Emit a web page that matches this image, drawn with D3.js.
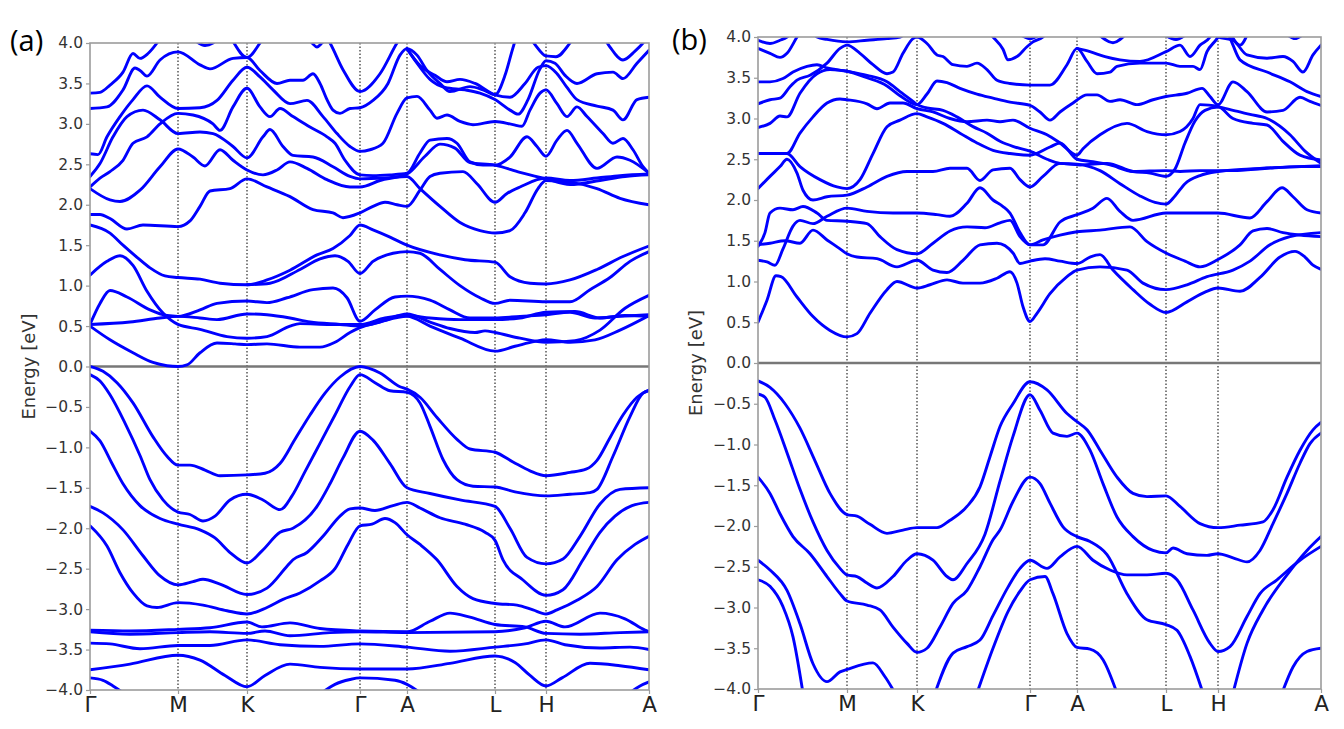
<!DOCTYPE html>
<html><head><meta charset="utf-8">
<script src="https://cdnjs.cloudflare.com/ajax/libs/d3/7.8.5/d3.min.js"></script>
<style>body{margin:0;background:#fff}svg{display:block}</style>
</head><body><svg id="c" width="1344" height="729"></svg>
<script>
// k-path positions of the high-symmetry points (path length units)
const kTicksA = [0, 88, 157, 270, 317, 405, 456, 559];
const kTicksB = [0, 89, 159, 272, 319, 408, 460, 563];
const kLabels = ["Γ","M","K","Γ","A","L","H","A"];
const eTicks = [-4,-3.5,-3,-2.5,-2,-1.5,-1,-0.5,0,0.5,1,1.5,2,2.5,3,3.5,4];
const panelLabels = ["(a)","(b)"];

// ---------- panel (a) bands: [k, E(eV)] ----------
const aV1=[[0,0],[13,-0.06],[27,-0.2],[43,-0.45],[63,-0.87],[77,-1.11],[88,-1.22],[100,-1.22],[115,-1.28],[130,-1.35],[157,-1.34],[175,-1.32],[190,-1.2],[205,-0.9],[220,-0.6],[235,-0.33],[250,-0.13],[270,0],[290,-0.08],[310,-0.25],[317,-0.28],[330,-0.38],[347,-0.63],[367,-0.9],[380,-1.02],[405,-1.06],[423,-1.18],[440,-1.29],[456,-1.35],[480,-1.31],[496,-1.27],[507,-1.16],[520,-0.88],[533,-0.6],[547,-0.38],[559,-0.29]];
const aV2=[[0,-0.1],[10,-0.18],[20,-0.35],[35,-0.7],[50,-1.1],[60,-1.4],[73,-1.65],[88,-1.8],[100,-1.83],[113,-1.91],[125,-1.85],[140,-1.65],[157,-1.58],[173,-1.65],[190,-1.77],[202,-1.6],[215,-1.3],[230,-0.95],[245,-0.6],[260,-0.25],[270,-0.1],[285,-0.2],[300,-0.3],[317,-0.32],[330,-0.45],[340,-0.74],[353,-1.15],[367,-1.4],[383,-1.48],[405,-1.49],[425,-1.55],[456,-1.6],[480,-1.58],[500,-1.56],[507,-1.52],[523,-1.11],[540,-0.62],[553,-0.33],[559,-0.3]];
const aV3=[[0,-0.8],[10,-0.92],[22,-1.2],[33,-1.45],[50,-1.72],[70,-1.88],[88,-1.95],[110,-2.02],[125,-2.12],[140,-2.3],[157,-2.43],[172,-2.28],[190,-2.05],[203,-2.0],[227,-1.73],[240,-1.45],[253,-1.13],[270,-0.8],[283,-0.91],[300,-1.2],[317,-1.5],[340,-1.57],[370,-1.65],[405,-1.73],[420,-2.0],[437,-2.36],[456,-2.44],[473,-2.38],[490,-2.1],[510,-1.7],[530,-1.52],[559,-1.5]];
const aV4=[[0,-1.73],[13,-1.81],[33,-2.02],[53,-2.34],[70,-2.59],[88,-2.7],[103,-2.66],[113,-2.63],[130,-2.69],[157,-2.82],[177,-2.74],[197,-2.47],[203,-2.39],[217,-2.3],[233,-2.1],[250,-1.85],[260,-1.76],[270,-1.75],[285,-1.78],[303,-1.72],[317,-1.68],[330,-1.75],[350,-1.87],[375,-1.95],[395,-2.05],[405,-2.15],[413,-2.39],[433,-2.64],[456,-2.83],[473,-2.76],[493,-2.39],[510,-2.05],[525,-1.85],[542,-1.72],[559,-1.68]];
const aV5=[[0,-1.97],[17,-2.22],[30,-2.55],[43,-2.8],[57,-2.96],[67,-2.98],[88,-2.92],[113,-2.95],[137,-3.02],[157,-3.06],[177,-2.98],[193,-2.88],[210,-2.8],[230,-2.65],[245,-2.5],[258,-2.2],[270,-1.97],[282,-1.95],[295,-1.88],[305,-1.93],[317,-2.08],[330,-2.2],[347,-2.39],[367,-2.72],[383,-2.87],[405,-2.93],[427,-2.95],[443,-3.01],[456,-3.06],[467,-3.01],[487,-2.89],[507,-2.72],[527,-2.39],[545,-2.2],[559,-2.1]];
const aF1=[[0,-3.26],[40,-3.27],[88,-3.25],[120,-3.23],[157,-3.16],[172,-3.22],[200,-3.17],[230,-3.24],[270,-3.27],[317,-3.28],[340,-3.15],[360,-3.05],[380,-3.1],[405,-3.19],[435,-3.22],[456,-3.3],[490,-3.31],[530,-3.29],[559,-3.28]];
const aF2=[[0,-3.28],[40,-3.31],[88,-3.29],[120,-3.28],[157,-3.3],[175,-3.27],[200,-3.33],[240,-3.29],[270,-3.28],[317,-3.29],[405,-3.28],[435,-3.23],[456,-3.15],[475,-3.22],[510,-3.05],[535,-3.12],[555,-3.26],[559,-3.28]];
const aF3=[[0,-3.42],[20,-3.43],[50,-3.49],[88,-3.45],[120,-3.45],[157,-3.38],[190,-3.44],[230,-3.46],[270,-3.43],[317,-3.47],[360,-3.52],[405,-3.47],[435,-3.43],[456,-3.38],[475,-3.44],[510,-3.48],[540,-3.47],[559,-3.5]];
const aF4=[[0,-3.75],[40,-3.68],[88,-3.57],[110,-3.63],[135,-3.82],[157,-3.96],[175,-3.82],[200,-3.68],[230,-3.72],[270,-3.74],[317,-3.74],[360,-3.67],[405,-3.58],[425,-3.66],[440,-3.82],[456,-3.95],[472,-3.85],[500,-3.67],[530,-3.7],[559,-3.75]];
const aF5a=[[0,-3.85],[13,-3.88],[23,-3.95],[35,-4.05]];
const aF5b=[[230,-4.05],[245,-3.93],[260,-3.87],[270,-3.85],[305,-3.88],[317,-3.93],[332,-4.05]];
const aF5c=[[538,-4.05],[550,-3.95],[559,-3.9]];
const aC1=[[0,0.5],[20,0.33],[43,0.17],[63,0.05],[77,0.01],[88,0],[97,0.02],[110,0.17],[127,0.29],[145,0.28],[157,0.27],[177,0.28],[210,0.24],[230,0.24],[245,0.3],[260,0.42],[270,0.48],[290,0.55],[317,0.62],[340,0.5],[370,0.35],[405,0.19],[425,0.25],[445,0.31],[456,0.33],[480,0.3],[505,0.33],[530,0.45],[559,0.63]];
const aC2=[[0,0.52],[40,0.55],[70,0.6],[88,0.62],[110,0.6],[127,0.58],[157,0.65],[177,0.64],[200,0.6],[220,0.55],[250,0.52],[270,0.5],[295,0.57],[317,0.65],[340,0.55],[360,0.47],[385,0.42],[395,0.44],[405,0.42],[430,0.35],[456,0.3],[485,0.32],[510,0.45],[535,0.72],[559,0.88]];
const aC3=[[0,0.52],[10,0.78],[20,0.94],[37,0.86],[60,0.7],[77,0.63],[88,0.62],[110,0.7],[127,0.78],[157,0.81],[177,0.79],[197,0.85],[223,0.95],[243,0.97],[257,0.85],[270,0.56],[285,0.7],[305,0.86],[317,0.87],[340,0.82],[360,0.7],[380,0.6],[405,0.6],[430,0.62],[456,0.64],[480,0.67],[505,0.6],[530,0.62],[559,0.64]];
const aC4=[[0,1.13],[17,1.3],[30,1.37],[43,1.25],[57,0.93],[73,0.66],[88,0.52],[110,0.46],[137,0.37],[157,0.35],[177,0.37],[200,0.5],[210,0.53],[240,0.52],[270,0.52],[295,0.6],[317,0.63],[340,0.6],[370,0.58],[405,0.58],[430,0.6],[456,0.67],[485,0.68],[510,0.6],[535,0.63],[559,0.62]];
const aC5=[[0,1.75],[20,1.65],[33,1.5],[47,1.35],[60,1.22],[75,1.12],[88,1.1],[110,1.08],[130,1.03],[157,1.01],[177,1.07],[200,1.19],[227,1.38],[243,1.46],[260,1.62],[270,1.75],[283,1.69],[300,1.6],[317,1.5],[350,1.38],[375,1.32],[405,1.29],[420,1.11],[440,1.03],[456,1.02],[480,1.07],[507,1.2],[533,1.36],[559,1.49]];
const aC5b=[[157,1.01],[180,1.03],[210,1.2],[230,1.33],[245,1.37],[258,1.3],[270,1.15],[283,1.3],[303,1.4],[317,1.42],[330,1.4],[350,1.2],[370,1.0],[390,0.85],[405,0.78],[420,0.82],[456,0.8],[480,0.8],[500,0.95],[520,1.1],[540,1.3],[559,1.42]];
const aC6=[[0,1.88],[10,1.88],[20,1.83],[37,1.7],[53,1.75],[88,1.73],[100,1.8],[110,1.98],[120,2.17],[140,2.2],[157,2.32],[177,2.22],[200,2.1],[223,1.94],[243,1.9],[253,1.84],[270,1.9],[283,1.98],[295,2.03],[307,2.0],[317,1.98],[330,2.18],[340,2.35],[350,2.39],[373,2.41],[387,2.26],[405,2.03],[417,2.14],[430,2.22],[456,2.33],[480,2.3],[507,2.33],[530,2.36],[559,2.38]];
const aC7=[[0,2.2],[20,2.06],[30,2.04],[50,2.18],[70,2.47],[88,2.69],[103,2.59],[115,2.48],[130,2.68],[143,2.55],[157,2.43],[173,2.37],[187,2.43],[200,2.53],[217,2.45],[237,2.31],[260,2.22],[270,2.22],[290,2.3],[317,2.38],[335,2.6],[350,2.75],[365,2.7],[380,2.52],[405,2.49],[430,2.4],[456,2.32],[480,2.25],[510,2.3],[535,2.35],[559,2.37]];
const aL3=[[0,2.63],[8,2.62],[17,2.84],[30,3.09],[43,3.3],[57,3.47],[70,3.33],[88,3.19],[110,3.2],[127,3.29],[143,3.54],[157,3.7],[170,3.58],[183,3.42],[200,3.25],[217,3.29],[233,3.09],[247,2.88],[260,2.72],[270,2.66],[280,2.68],[293,2.76],[307,3.13],[317,3.32],[327,3.34],[340,3.17],[347,3.07],[357,3.11],[370,3.03],[383,2.99],[405,3.03],[423,2.99],[432,2.97],[440,3.17],[450,3.38],[456,3.42],[467,3.25],[477,3.09],[487,3.21],[497,3.09],[513,2.88],[523,2.76],[533,2.82],[543,2.68],[553,2.47],[559,2.39]];
const aL4=[[0,2.35],[10,2.51],[23,2.84],[37,3.09],[53,3.17],[70,3.05],[88,2.88],[110,2.9],[123,2.88],[143,2.72],[157,2.58],[173,2.84],[180,2.93],[193,2.72],[203,2.61],[223,2.59],[243,2.47],[260,2.35],[270,2.32],[295,2.33],[317,2.35],[330,2.2],[350,1.98],[370,1.78],[390,1.68],[405,1.65],[420,1.68],[435,1.9],[448,2.2],[456,2.3],[480,2.28],[507,2.2],[530,2.08],[559,2.0]];
const aL5=[[0,2.22],[10,2.33],[20,2.41],[33,2.55],[43,2.76],[57,2.84],[70,3.0],[88,3.13],[103,3.11],[123,3.0],[130,2.92],[143,3.21],[157,3.44],[170,3.21],[180,3.09],[190,3.19],[203,3.09],[220,2.96],[237,2.84],[245,2.76],[255,2.55],[270,2.37],[283,2.36],[300,2.37],[317,2.39],[330,2.64],[340,2.8],[357,2.82],[367,2.76],[380,2.53],[393,2.49],[405,2.49],[420,2.59],[437,2.84],[447,2.72],[456,2.6],[467,2.8],[477,2.92],[487,2.76],[507,2.45],[527,2.59],[540,2.55],[559,2.39]];
const aU1=[[0,3.38],[10,3.39],[20,3.48],[33,3.64],[43,3.87],[50,3.81],[58,3.87],[67,4.0],[75,4.15]];
const aU1b=[[95,4.15],[105,4.03],[115,3.97],[123,4.0],[132,4.15]];
const aU1c=[[132,4.3],[143,4.02],[157,3.82],[170,4.0],[180,4.2]];
const aU1d=[[215,4.1],[222,4.0],[227,3.95],[232,4.0],[240,4.1]];
const aUG=[[232,4.15],[240,4.0],[253,3.67],[270,3.4],[290,3.62],[307,4.0],[315,4.15]];
const aU2=[[0,3.19],[17,3.21],[33,3.42],[45,3.69],[50,3.66],[57,3.59],[70,3.79],[88,3.89],[110,3.73],[120,3.68],[143,3.81],[157,3.82],[170,3.66],[187,3.5],[200,3.54],[213,3.54],[223,3.62],[230,3.5],[237,3.3],[243,3.17],[250,3.13],[260,3.19],[270,3.2],[283,3.29],[298,3.5],[310,3.85],[317,3.93],[327,3.85],[337,3.66],[350,3.5],[360,3.4],[380,3.46],[393,3.42],[405,3.36],[415,3.6],[422,3.9],[428,4.15]];
const aU4=[[317,3.93],[327,3.75],[340,3.55],[355,3.45],[375,3.42],[390,3.38],[405,3.3],[420,3.17],[428,3.12],[438,3.3],[450,3.68],[456,3.78],[465,3.75],[475,3.6],[487,3.5],[507,3.62],[523,3.64],[533,3.56],[547,3.75],[559,3.91]];
const aU5=[[317,3.93],[330,3.72],[345,3.6],[357,3.52],[370,3.55],[385,3.5],[405,3.36],[420,3.33],[435,3.5],[448,3.7],[456,3.72],[467,3.62],[477,3.45],[487,3.3],[507,3.22],[523,3.17],[533,3.05],[547,3.3],[559,3.33]];
const aU3=[[435,4.15],[445,3.98],[456,3.84],[466,3.83],[480,4.0],[488,4.15]];
const aU6=[[510,4.15],[520,3.95],[533,3.79],[545,3.9],[553,4.0],[559,4.1]];

// ---------- panel (b) bands ----------
const bV1=[[0,-0.22],[12,-0.3],[27,-0.5],[42,-0.8],[57,-1.2],[72,-1.6],[89,-1.86],[99,-1.88],[112,-1.98],[129,-2.09],[145,-2.05],[159,-2.02],[179,-2.02],[192,-1.93],[209,-1.76],[222,-1.52],[232,-1.15],[242,-0.78],[255,-0.5],[272,-0.23],[289,-0.33],[309,-0.62],[319,-0.72],[329,-0.82],[342,-1.07],[359,-1.4],[375,-1.6],[389,-1.64],[408,-1.63],[422,-1.76],[442,-1.97],[460,-2.02],[482,-1.99],[505,-1.95],[515,-1.8],[529,-1.4],[542,-1.07],[555,-0.82],[563,-0.73]];
const bV2=[[0,-0.38],[7,-0.42],[17,-0.7],[29,-1.1],[42,-1.55],[55,-1.95],[69,-2.3],[82,-2.52],[89,-2.6],[99,-2.62],[109,-2.7],[119,-2.76],[135,-2.62],[149,-2.42],[159,-2.34],[175,-2.42],[189,-2.62],[195,-2.66],[209,-2.46],[227,-2.1],[242,-1.45],[255,-0.9],[272,-0.39],[282,-0.58],[295,-0.86],[309,-0.9],[319,-0.86],[332,-1.07],[345,-1.48],[359,-1.89],[375,-2.13],[395,-2.3],[408,-2.33],[415,-2.27],[429,-2.34],[449,-2.36],[460,-2.34],[475,-2.39],[489,-2.44],[502,-2.3],[515,-1.97],[529,-1.6],[542,-1.23],[552,-0.99],[563,-0.86]];
const bV3=[[0,-1.4],[12,-1.6],[22,-1.85],[35,-2.13],[52,-2.34],[69,-2.62],[82,-2.83],[89,-2.92],[109,-2.97],[122,-3.03],[135,-3.24],[149,-3.44],[159,-3.55],[169,-3.5],[182,-3.24],[195,-2.95],[209,-2.79],[222,-2.5],[235,-2.17],[242,-2.05],[255,-1.7],[272,-1.4],[282,-1.48],[292,-1.72],[305,-2.01],[319,-2.13],[332,-2.19],[349,-2.35],[369,-2.83],[389,-3.15],[408,-3.21],[419,-3.28],[432,-3.6],[445,-4.05]];
const bV4=[[0,-2.42],[12,-2.54],[29,-2.79],[42,-3.2],[55,-3.69],[69,-3.91],[82,-3.79],[89,-3.76],[115,-3.68],[127,-3.85],[137,-4.05]];
const bV5=[[0,-2.66],[12,-2.74],[25,-2.99],[35,-3.36],[45,-4.05]];
const bV6=[[177,-4.05],[195,-3.56],[209,-3.48],[222,-3.4],[235,-3.1],[250,-2.75],[262,-2.52],[272,-2.42],[289,-2.52],[302,-2.38],[319,-2.25],[335,-2.42],[352,-2.54],[369,-2.6],[389,-2.6],[408,-2.58],[419,-2.66],[435,-3.03],[452,-3.44],[460,-3.54],[472,-3.48],[489,-3.11],[502,-2.83],[519,-2.66],[542,-2.42],[563,-2.25]];
const bV7=[[219,-4.05],[235,-3.5],[250,-3.05],[262,-2.8],[272,-2.66],[287,-2.62],[295,-2.83],[309,-3.32],[319,-3.49],[332,-3.51],[345,-3.64],[359,-4.05]];
const bV8=[[475,-4.05],[489,-3.44],[505,-3.03],[529,-2.6],[549,-2.3],[563,-2.13]];
const bV9=[[524,-4.05],[535,-3.73],[549,-3.54],[563,-3.5]];
const bC1=[[0,0.5],[9,0.77],[18,1.07],[23,1.06],[39,0.81],[55,0.57],[72,0.4],[89,0.32],[99,0.36],[112,0.61],[129,0.9],[139,1.0],[159,0.92],[172,0.96],[189,1.02],[205,0.98],[222,0.98],[239,1.04],[252,1.12],[259,0.98],[265,0.69],[272,0.51],[279,0.61],[292,0.85],[309,1.06],[319,1.14],[342,1.18],[369,1.14],[385,0.98],[408,0.9],[429,0.96],[449,1.06],[475,1.14],[492,1.25],[512,1.45],[532,1.55],[563,1.6]];
const bC4=[[0,1.45],[12,1.47],[27,1.5],[42,1.47],[55,1.63],[69,1.51],[82,1.4],[89,1.34],[99,1.3],[119,1.28],[139,1.18],[159,1.26],[175,1.14],[189,1.11],[205,1.26],[222,1.45],[239,1.47],[255,1.35],[262,1.22],[272,1.25],[287,1.28],[302,1.25],[319,1.22],[332,1.3],[342,1.33],[355,1.14],[375,0.9],[392,0.72],[408,0.62],[429,0.75],[447,0.87],[460,0.92],[482,0.88],[502,1.05],[522,1.3],[537,1.37],[547,1.3],[555,1.2],[563,1.15]];
const bC2=[[0,1.26],[9,1.24],[17,1.2],[25,1.4],[35,1.68],[42,1.75],[55,1.71],[69,1.8],[89,1.9],[109,1.86],[135,1.84],[159,1.84],[179,1.82],[192,1.8],[209,1.96],[222,2.15],[235,2.0],[245,1.92],[252,1.84],[262,1.6],[272,1.45],[285,1.51],[302,1.57],[319,1.61],[342,1.63],[372,1.67],[389,1.49],[408,1.35],[427,1.25],[442,1.18],[460,1.27],[482,1.45],[495,1.62],[509,1.65],[525,1.6],[542,1.57],[563,1.55]];
const bC3=[[0,1.43],[7,1.6],[12,1.84],[22,1.9],[35,1.88],[45,1.92],[59,1.84],[69,1.75],[89,1.74],[109,1.71],[122,1.55],[139,1.39],[159,1.34],[175,1.47],[192,1.62],[209,1.67],[227,1.66],[242,1.72],[252,1.75],[262,1.55],[272,1.45],[285,1.45],[302,1.73],[319,1.82],[335,1.9],[349,2.02],[362,1.86],[375,1.75],[408,1.84],[442,1.84],[460,1.84],[492,1.78],[509,1.98],[524,2.15],[535,2.04],[549,1.88],[563,1.84]];
const bU10=[[0,2.14],[12,2.29],[22,2.41],[29,2.5],[39,2.33],[45,2.12],[55,2.0],[69,2.04],[89,2.06],[109,2.16],[129,2.29],[149,2.35],[159,2.35],[175,2.35],[192,2.39],[209,2.39],[222,2.24],[235,2.37],[252,2.39],[262,2.25],[272,2.16],[285,2.29],[302,2.45],[322,2.43],[349,2.45],[375,2.35],[392,2.33],[408,2.29],[417,2.38],[427,2.7],[437,2.97],[447,3.1],[460,3.14],[475,3.1],[492,3.05],[509,3.0],[532,2.8],[547,2.6],[563,2.45]];
const bU5b=[[0,2.57],[29,2.57],[42,2.41],[62,2.25],[79,2.16],[89,2.14],[102,2.25],[115,2.57],[129,2.9],[142,2.98],[159,3.06],[169,3.02],[185,2.94],[202,2.82],[219,2.7],[235,2.61],[252,2.57],[272,2.55],[292,2.65],[302,2.7],[319,2.5],[335,2.47],[352,2.43],[375,2.35],[408,2.36],[422,2.35],[442,2.36],[475,2.36],[509,2.39],[542,2.41],[563,2.41]];
const bU6=[[0,2.57],[29,2.57],[42,2.82],[55,3.02],[69,3.19],[82,3.24],[89,3.23],[109,3.18],[119,3.12],[132,3.19],[145,3.19],[159,3.12],[175,3.08],[192,3.0],[209,2.96],[229,2.98],[242,2.96],[255,2.98],[272,2.88],[289,2.8],[302,2.7],[319,2.55],[325,2.63],[342,2.8],[369,2.94],[389,2.84],[408,2.8],[422,2.84],[435,3.0],[442,3.17],[460,3.15],[475,3.0],[495,2.94],[509,2.92],[525,2.72],[542,2.55],[563,2.49]];
const bU3=[[0,3.45],[12,3.45],[25,3.49],[35,3.57],[49,3.64],[59,3.66],[69,3.62],[89,3.58],[109,3.53],[129,3.45],[142,3.33],[155,3.21],[159,3.17],[169,3.13],[185,3.1],[199,3.02],[215,2.9],[229,2.82],[242,2.72],[257,2.65],[272,2.6],[289,2.5],[302,2.45],[319,2.44],[342,2.36],[362,2.2],[382,2.05],[397,1.97],[408,1.95],[417,2.05],[427,2.2],[442,2.3],[460,2.35],[492,2.38],[522,2.4],[563,2.42]];
const bU5=[[0,2.89],[12,2.94],[22,3.03],[29,3.02],[42,3.31],[59,3.55],[72,3.6],[89,3.58],[109,3.5],[129,3.4],[142,3.28],[159,3.17],[169,3.3],[179,3.46],[189,3.44],[202,3.37],[219,3.3],[235,3.25],[252,3.2],[272,3.16],[282,3.08],[292,2.98],[302,3.08],[315,3.19],[329,3.29],[339,3.29],[352,3.21],[362,3.23],[379,3.17],[395,3.23],[408,3.27],[429,3.31],[444,3.37],[452,3.27],[460,3.17],[475,3.45],[489,3.33],[509,3.08],[525,3.1],[542,3.26],[552,3.21],[563,3.16]];
const bU4=[[0,3.18],[12,3.23],[22,3.25],[32,3.39],[39,3.47],[52,3.53],[69,3.68],[82,3.86],[89,3.9],[102,3.8],[115,3.66],[129,3.55],[135,3.57],[145,3.8],[155,3.98],[159,4.0],[169,3.92],[179,3.78],[185,3.76],[195,3.66],[209,3.64],[219,3.68],[229,3.6],[239,3.47],[252,3.43],[272,3.41],[292,3.41],[309,3.66],[319,3.86],[329,3.7],[339,3.55],[352,3.57],[359,3.64],[382,3.68],[408,3.68],[422,3.64],[435,3.64],[442,3.6],[449,3.82],[459,3.98],[467,4.15]];
const bU1=[[0,3.96],[12,3.92],[22,3.96],[29,4.0],[37,4.1]];
const bU2=[[0,3.86],[12,3.8],[22,3.75],[29,3.8],[39,4.0],[47,4.15]];
const bUt=[[52,4.1],[59,4.0],[69,3.97],[89,3.94],[109,3.96],[129,3.98],[142,4.0],[152,4.1]];
const bUu=[[227,4.1],[235,4.0],[245,3.85],[250,3.72],[259,3.76],[269,3.88],[275,3.94],[285,4.0],[292,4.1]];
const bU8=[[319,3.86],[332,3.82],[347,3.76],[362,3.72],[382,3.7],[408,3.82],[422,3.9],[432,3.76],[442,3.9],[452,4.0],[458,4.15]];
const bU11=[[452,4.15],[460,4.0],[475,3.96],[489,3.78],[509,3.74],[525,3.76],[535,3.7],[545,3.57],[555,3.78],[563,3.9]];
const bU12=[[467,4.15],[475,3.9],[482,3.72],[509,3.57],[532,3.45],[549,3.33],[563,3.27]];
const bU13=[[472,4.05],[482,3.9],[490,4.05]];
const bU14=[[527,4.05],[537,3.98],[547,4.05]];
const bU15=[[339,4.05],[355,3.93],[369,4.05]];
const bU16=[[406,4.03],[418,3.97],[428,4.03]];
const bU17=[[262,4.03],[272,3.98],[282,4.03]];

const bandsA=[aV1,aV2,aV3,aV4,aV5,aF1,aF2,aF3,aF4,aF5a,aF5b,aF5c,aC1,aC2,aC3,aC4,aC5,aC5b,aC6,aC7,aL3,aL4,aL5,aU1,aU1b,aU1c,aU1d,aUG,aU2,aU4,aU5,aU3,aU6];
const bandsB=[bV1,bV2,bV3,bV4,bV5,bV6,bV7,bV8,bV9,bC1,bC4,bC2,bC3,bU10,bU5b,bU6,bU3,bU5,bU4,bU1,bU2,bUt,bUu,bU8,bU11,bU12,bU13,bU14,bU15,bU16,bU17];

// ---------- layout ----------
const panels=[
  {ticks:kTicksA,bands:bandsA,left:90,right:649,top:43,bottom:690,label:panelLabels[0],labelX:10,labelY:51,yLabX:30},
  {ticks:kTicksB,bands:bandsB,left:758,right:1321,top:37,bottom:689,label:panelLabels[1],labelX:672,labelY:50,yLabX:697}
];

const svg=d3.select("#c");
const fmt=d3.format(".1f");

panels.forEach((p,i)=>{
  const x=d3.scaleLinear().domain([p.ticks[0],p.ticks[p.ticks.length-1]]).range([p.left,p.right]);
  const y=d3.scaleLinear().domain([-4,4]).range([p.bottom,p.top]);
  const g=svg.append("g");
  const cid="clip"+i;
  svg.append("clipPath").attr("id",cid).append("rect")
    .attr("x",p.left).attr("y",p.top).attr("width",p.right-p.left).attr("height",p.bottom-p.top);

  // dotted vertical lines at interior high-symmetry points
  g.selectAll(".vl").data(p.ticks.slice(1,-1)).enter().append("line")
    .attr("x1",d=>x(d)).attr("x2",d=>x(d)).attr("y1",p.top).attr("y2",p.bottom)
    .attr("stroke","#555").attr("stroke-width",1.5).attr("stroke-dasharray","1.4,2.1");

  // Fermi level
  g.append("line").attr("x1",p.left).attr("x2",p.right).attr("y1",y(0)).attr("y2",y(0))
    .attr("stroke","#777").attr("stroke-width",2.6);

  // bands
  const line=d3.line().x(d=>x(d[0])).y(d=>y(d[1])).curve(d3.curveMonotoneX);
  g.append("g").attr("clip-path",`url(#${cid})`).selectAll("path").data(p.bands).enter().append("path")
    .attr("d",line).attr("fill","none").attr("stroke","#0000ff").attr("stroke-width",2.9)
    .attr("stroke-linejoin","round").attr("stroke-linecap","round");

  // frame
  g.append("rect").attr("x",p.left).attr("y",p.top).attr("width",p.right-p.left).attr("height",p.bottom-p.top)
    .attr("fill","none").attr("stroke","#9c9c9c").attr("stroke-width",1.6);

  // y axis
  const ya=d3.axisLeft(y).tickValues(eTicks).tickFormat(fmt).tickSize(4).tickPadding(3);
  const yg=g.append("g").attr("transform",`translate(${p.left},0)`).call(ya);
  yg.select(".domain").remove();
  yg.selectAll("line").attr("stroke","#9c9c9c").attr("stroke-width",1.2);
  yg.selectAll("text").attr("font-family","DejaVu Sans").attr("font-size",15.5).attr("fill","#333");

  // x axis
  const xa=d3.axisBottom(x).tickValues(p.ticks).tickFormat((d,j)=>kLabels[j]).tickSize(4).tickPadding(3);
  const xg=g.append("g").attr("transform",`translate(0,${p.bottom})`).call(xa);
  xg.select(".domain").remove();
  xg.selectAll("line").attr("stroke","#9c9c9c").attr("stroke-width",1.2);
  xg.selectAll("text").attr("font-family","DejaVu Sans").attr("font-size",21.5).attr("fill","#222");

  // y label
  g.append("text").attr("transform",`translate(${p.yLabX},${y(0)}) rotate(-90)`)
    .attr("text-anchor","middle").attr("dominant-baseline","middle")
    .attr("font-family","DejaVu Sans").attr("font-size",18).attr("fill","#333").text("Energy [eV]");

  // panel label
  svg.append("text").attr("x",p.labelX).attr("y",p.labelY)
    .attr("font-family","Open Sans").attr("font-size",29).attr("fill","#000").text(p.label);
});
</script></body></html>
